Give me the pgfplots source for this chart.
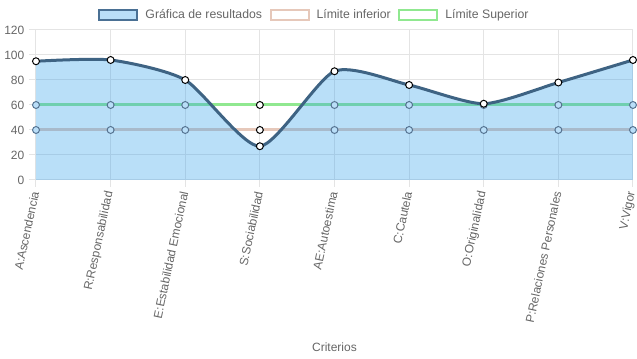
\documentclass[border=0pt]{standalone}
\usepackage{pgfplots}
\pgfplotsset{compat=1.18}
\usepackage{fontspec}
\setmainfont{Liberation Sans}
\definecolor{txt}{HTML}{666666}
\definecolor{gridc}{HTML}{E4E4E4}
\definecolor{mainline}{HTML}{3E6383}
\definecolor{legline}{HTML}{4A7094}
\definecolor{mainfill}{RGB}{54,162,235}
\definecolor{lowc}{RGB}{230,200,186}
\definecolor{upc}{RGB}{144,232,144}
\definecolor{ringc}{RGB}{85,115,145}
\begin{document}
\begin{tikzpicture}
\begin{axis}[
  scale only axis, width=447.75pt, height=112.5pt,
  at={(0,0)}, anchor=south west,
  xmin=0, xmax=8, ymin=0, ymax=120,
  xtick={0,1,...,8},
  xticklabels={A:Ascendencia,R:Responsabilidad,E:Estabilidad Emocional,S:Sociabilidad,AE:Autoestima,C:Cautela,O:Originalidad,P:Relaciones Personales,V:Vigor},
  ytick={0,20,...,120},
  tick pos=left,
  grid=major, major grid style={gridc, line width=0.75pt},
  axis line style={gridc, line width=0.75pt},
  tick align=outside, major tick length=5.25pt, tick style={gridc, line width=0.75pt},
  ticklabel style={font=\fontsize{9}{10}\selectfont, text=txt},
  xticklabel style={rotate=78, anchor=east},
  /pgf/number format/assume math mode=true,
  clip=false,
  xlabel={Criterios},
  xlabel style={at={(axis description cs:0.5,0)}, anchor=center, yshift=-125.25pt, font=\fontsize{9}{10}\selectfont, text=txt},
  legend style={draw=none, fill=none, at={(axis description cs:0.4648,1.1)}, anchor=center,
    font=\fontsize{9.2}{10}\selectfont, text=txt, inner sep=0pt, nodes={inner sep=0pt},
    /tikz/every odd column/.append style={column sep=5.25pt},
    /tikz/every even column/.append style={column sep=5.6pt}},
  legend columns=3, legend cell align=left,
]
\addlegendimage{legend image code/.code={\draw[draw=legline, fill=mainfill!35, line width=1.5pt] (0.75pt,-3.75pt) rectangle (29.25pt,3.75pt);}}
\addlegendentry{Gráfica de resultados}
\addlegendimage{legend image code/.code={\draw[draw=lowc, fill=white, line width=1.5pt] (0.75pt,-3.75pt) rectangle (29.25pt,3.75pt);}}
\addlegendentry{Límite inferior}
\addlegendimage{legend image code/.code={\draw[draw=upc, fill=white, line width=1.5pt] (0.75pt,-3.75pt) rectangle (29.25pt,3.75pt);}}
\addlegendentry{Límite Superior}

% limit lines
\addplot[lowc, line width=2.25pt, forget plot]
  coordinates {(0,40) (1,40) (2,40) (3,40) (4,40) (5,40) (6,40) (7,40) (8,40)};
\addplot[upc, line width=2.25pt, forget plot]
  coordinates {(0,60) (1,60) (2,60) (3,60) (4,60) (5,60) (6,60) (7,60) (8,60)};
% filled area of the results
\addplot[smooth, tension=0.4, draw=none, fill=mainfill, fill opacity=0.35, forget plot]
  coordinates {(0,95) (1,96) (2,80) (3,27) (4,87) (5,76) (6,61) (7,78) (8,96)} \closedcycle;
% limit points lying under the filled area (seen through the fill)
\addplot[only marks, mark=*, mark size=2.6pt, mark options={fill=mainfill!35, draw=ringc, line width=0.75pt}, forget plot]
  coordinates {(0,40) (1,40) (2,40) (4,40) (5,40) (6,40) (7,40) (8,40)
               (0,60) (1,60) (2,60) (4,60) (5,60) (6,60) (7,60) (8,60)};
% limit points outside the filled area
\addplot[only marks, mark=*, mark size=2.6pt, mark options={fill=white, draw=black, line width=0.75pt}, forget plot]
  coordinates {(3,40) (3,60)};
% results line
\addplot[smooth, tension=0.4, mainline, line width=2.25pt, mark=*, mark size=2.6pt, mark options={fill=white, draw=black, line width=0.75pt}, forget plot]
  coordinates {(0,95) (1,96) (2,80) (3,27) (4,87) (5,76) (6,61) (7,78) (8,96)};
\end{axis}
\pgfresetboundingbox
\path[use as bounding box] (-27pt,-134.25pt) rectangle (450.75pt,135pt);
\end{tikzpicture}
\end{document}
